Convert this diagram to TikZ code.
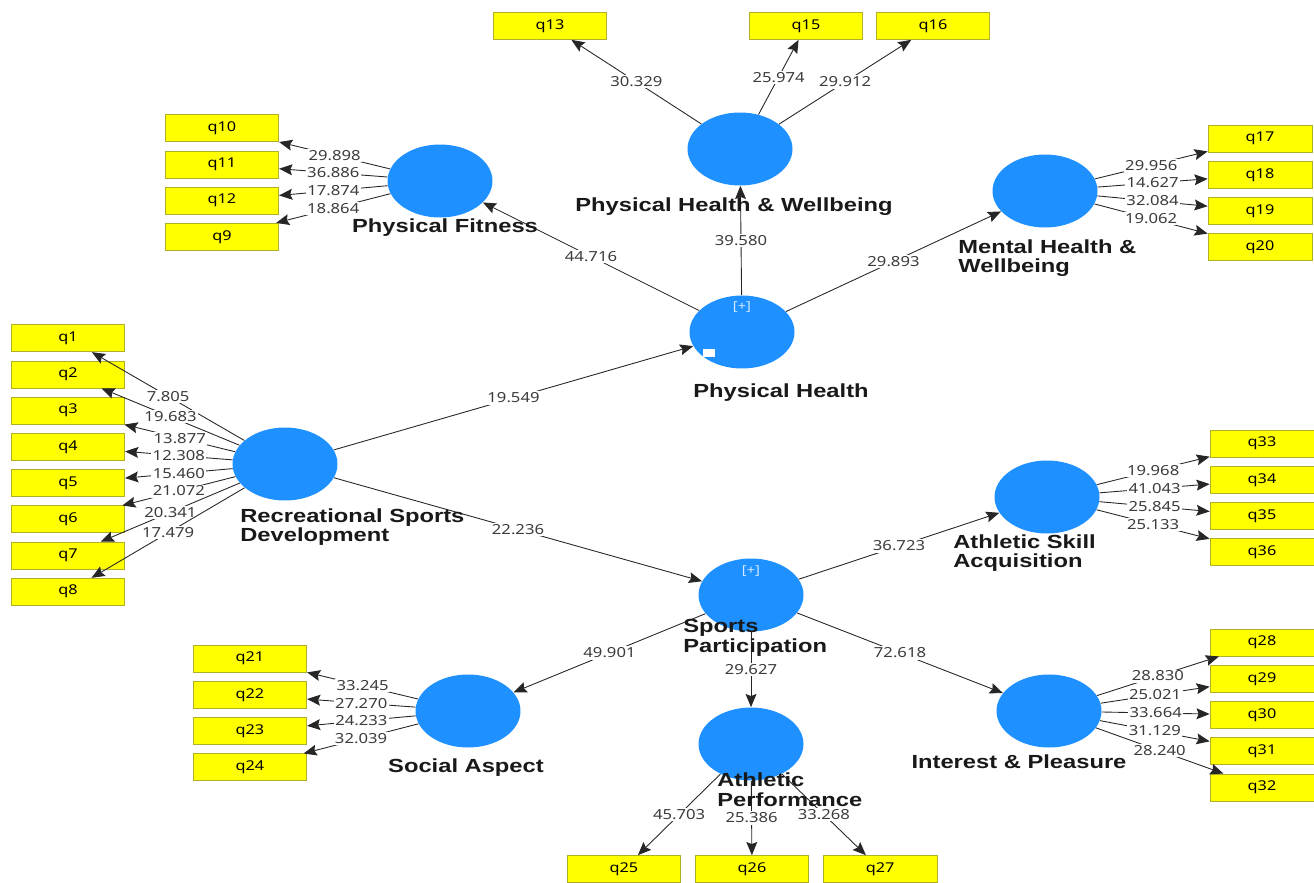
\documentclass[tikz,border=0pt]{standalone}
\usepackage{fontspec}
\usetikzlibrary{matrix,positioning,arrows.meta,shapes.geometric}
\newfontfamily\numfont[FakeStretch=1.2]{Noto Sans}
\newfontfamily\lblfont[FakeStretch=1.25]{Liberation Sans}
\definecolor{plsblue}{RGB}{30,144,255}
\definecolor{qyellow}{RGB}{255,255,0}
\definecolor{qedge}{RGB}{175,175,40}
\definecolor{coefgray}{RGB}{60,60,60}
\begin{document}
\begin{tikzpicture}[x=0.02cm, y=-0.02cm,
  lv/.style={ellipse, fill=plsblue, minimum width=2.1cm, minimum height=1.46cm, inner sep=0pt},
  qbox/.style={draw=qedge, fill=qyellow, minimum width=2.27cm, minimum height=0.54cm, inner sep=0pt, font=\numfont\fontsize{7.7}{8}\selectfont},
  rbox/.style={qbox, minimum width=2.08cm},
  qcol/.style={matrix of nodes, row sep=0.17cm, nodes={qbox}},
  rcol/.style={matrix of nodes, row sep=0.17cm, nodes={rbox}},
  ld/.style={-{Stealth[length=7.5pt,width=6.2pt,inset=1.2pt]}, draw=black!85, line width=0.5pt},
  coef/.style={fill=white, inner sep=0.8pt, text=coefgray, font=\numfont\fontsize{7.9}{8}\selectfont},
  lvname/.style={font=\lblfont\bfseries\fontsize{10.8}{11.2}\selectfont, text=black!90, align=left, inner sep=0pt},
  plus/.style={text=white!80!plsblue, font=\numfont\fontsize{7}{8}\selectfont, inner sep=0pt}]
  \useasboundingbox (0,0) rectangle (1314,882);

  \node[lv] (phw) at (740,149) {};
  \node[lv] (pf) at (440,181) {};
  \node[lv] (mhw) at (1045,191) {};
  \node[lv] (ph) at (742,332) {};
  \node[lv] (rsd) at (285,464) {};
  \node[lv] (asa) at (1047,497) {};
  \node[lv] (sp) at (751,595) {};
  \node[lv] (sa) at (468,711) {};
  \node[lv] (ip) at (1049,711) {};
  \node[lv] (ap) at (751,744) {};
  \fill[white] (703,349) rectangle (715,357);
  \node[plus] (phplus) at (742,307) {[+]};
  \node[plus] (spplus) at (751,571) {[+]};

  \node[qbox] (q13) at (550,26) {q13};
  \node[qbox] (q15) at (806,26) {q15};
  \node[qbox] (q16) at (933,26) {q16};
  \matrix (pfq) [qcol] at (222,182.5) {q10\\ q11\\ q12\\ q9\\};
  \matrix (mhwq) [rcol] at (1260,193) {q17\\ q18\\ q19\\ q20\\};
  \matrix (rsdq) [qcol] at (68,465) {q1\\ q2\\ q3\\ q4\\ q5\\ q6\\ q7\\ q8\\};
  \matrix (asaq) [rcol] at (1262,498) {q33\\ q34\\ q35\\ q36\\};
  \matrix (saq) [qcol] at (250,713) {q21\\ q22\\ q23\\ q24\\};
  \matrix (ipq) [rcol] at (1262,715) {q28\\ q29\\ q30\\ q31\\ q32\\};
  \matrix (apq) [matrix of nodes, nodes={qbox}, column sep=0.28cm] at (752,869) {q25 & q26 & q27\\};

  \draw[ld] (rsd) -- node[coef]{19.549} (ph);
  \draw[ld] (rsd) -- node[coef]{22.236} (sp);
  \draw[ld] (ph) -- node[coef]{44.716} (pf);
  \draw[ld] (ph) -- node[coef]{39.580} (phw);
  \draw[ld] (ph) -- node[coef]{29.893} (mhw);
  \draw[ld] (sp) -- node[coef]{36.723} (asa);
  \draw[ld] (sp) -- node[coef]{49.901} (sa);
  \draw[ld] (sp) -- node[coef]{29.627} (ap);
  \draw[ld] (sp) -- node[coef]{72.618} (ip);

  \draw[ld] (phw) -- node[coef]{30.329} (q13);
  \draw[ld] (phw) -- node[coef]{25.974} (q15);
  \draw[ld] (phw) -- node[coef]{29.912} (q16);

  \draw[ld] (pf) -- node[coef]{29.898} (pfq-1-1);
  \draw[ld] (pf) -- node[coef]{36.886} (pfq-2-1);
  \draw[ld] (pf) -- node[coef]{17.874} (pfq-3-1);
  \draw[ld] (pf) -- node[coef]{18.864} (pfq-4-1);

  \draw[ld] (mhw) -- node[coef]{29.956} (mhwq-1-1);
  \draw[ld] (mhw) -- node[coef]{14.627} (mhwq-2-1);
  \draw[ld] (mhw) -- node[coef]{32.084} (mhwq-3-1);
  \draw[ld] (mhw) -- node[coef]{19.062} (mhwq-4-1);

  \draw[ld] (rsd) -- node[coef]{7.805} (rsdq-1-1);
  \draw[ld] (rsd) -- node[coef]{19.683} (rsdq-2-1);
  \draw[ld] (rsd) -- node[coef]{13.877} (rsdq-3-1);
  \draw[ld] (rsd) -- node[coef]{12.308} (rsdq-4-1);
  \draw[ld] (rsd) -- node[coef]{15.460} (rsdq-5-1);
  \draw[ld] (rsd) -- node[coef]{21.072} (rsdq-6-1);
  \draw[ld] (rsd) -- node[coef]{20.341} (rsdq-7-1);
  \draw[ld] (rsd) -- node[coef]{17.479} (rsdq-8-1);

  \draw[ld] (asa) -- node[coef]{19.968} (asaq-1-1);
  \draw[ld] (asa) -- node[coef]{41.043} (asaq-2-1);
  \draw[ld] (asa) -- node[coef]{25.845} (asaq-3-1);
  \draw[ld] (asa) -- node[coef]{25.133} (asaq-4-1);

  \draw[ld] (sa) -- node[coef]{33.245} (saq-1-1);
  \draw[ld] (sa) -- node[coef]{27.270} (saq-2-1);
  \draw[ld] (sa) -- node[coef]{24.233} (saq-3-1);
  \draw[ld] (sa) -- node[coef]{32.039} (saq-4-1);

  \draw[ld] (ip) -- node[coef]{28.830} (ipq-1-1);
  \draw[ld] (ip) -- node[coef]{25.021} (ipq-2-1);
  \draw[ld] (ip) -- node[coef]{33.664} (ipq-3-1);
  \draw[ld] (ip) -- node[coef]{31.129} (ipq-4-1);
  \draw[ld] (ip) -- node[coef]{28.240} (ipq-5-1);

  \draw[ld] (ap) -- node[coef]{45.703} (apq-1-1);
  \draw[ld] (ap) -- node[coef]{25.386} (apq-1-2);
  \draw[ld] (ap) -- node[coef]{33.268} (apq-1-3);

  \node[lvname] (phwname) at (734,207) {Physical Health \& Wellbeing};
  \node[lvname] (pfname) at (445,228) {Physical Fitness};
  \node[lvname, anchor=west] (mhwname) at (958,258) {Mental Health \&\\Wellbeing};
  \node[lvname] (phname) at (781,393) {Physical Health};
  \node[lvname, anchor=west] (rsdname) at (240,527) {Recreational Sports\\Development};
  \node[lvname, anchor=west] (asaname) at (953,553) {Athletic Skill\\Acquisition};
  \node[lvname, anchor=west] (spname) at (683,637.5) {Sports\\Participation};
  \node[lvname] (saname) at (466,768) {Social Aspect};
  \node[lvname, anchor=west] (apname) at (717,790) {Athletic\\Performance};
  \node[lvname] (ipname) at (1019,762) {Interest \& Pleasure};
\end{tikzpicture}
\end{document}
